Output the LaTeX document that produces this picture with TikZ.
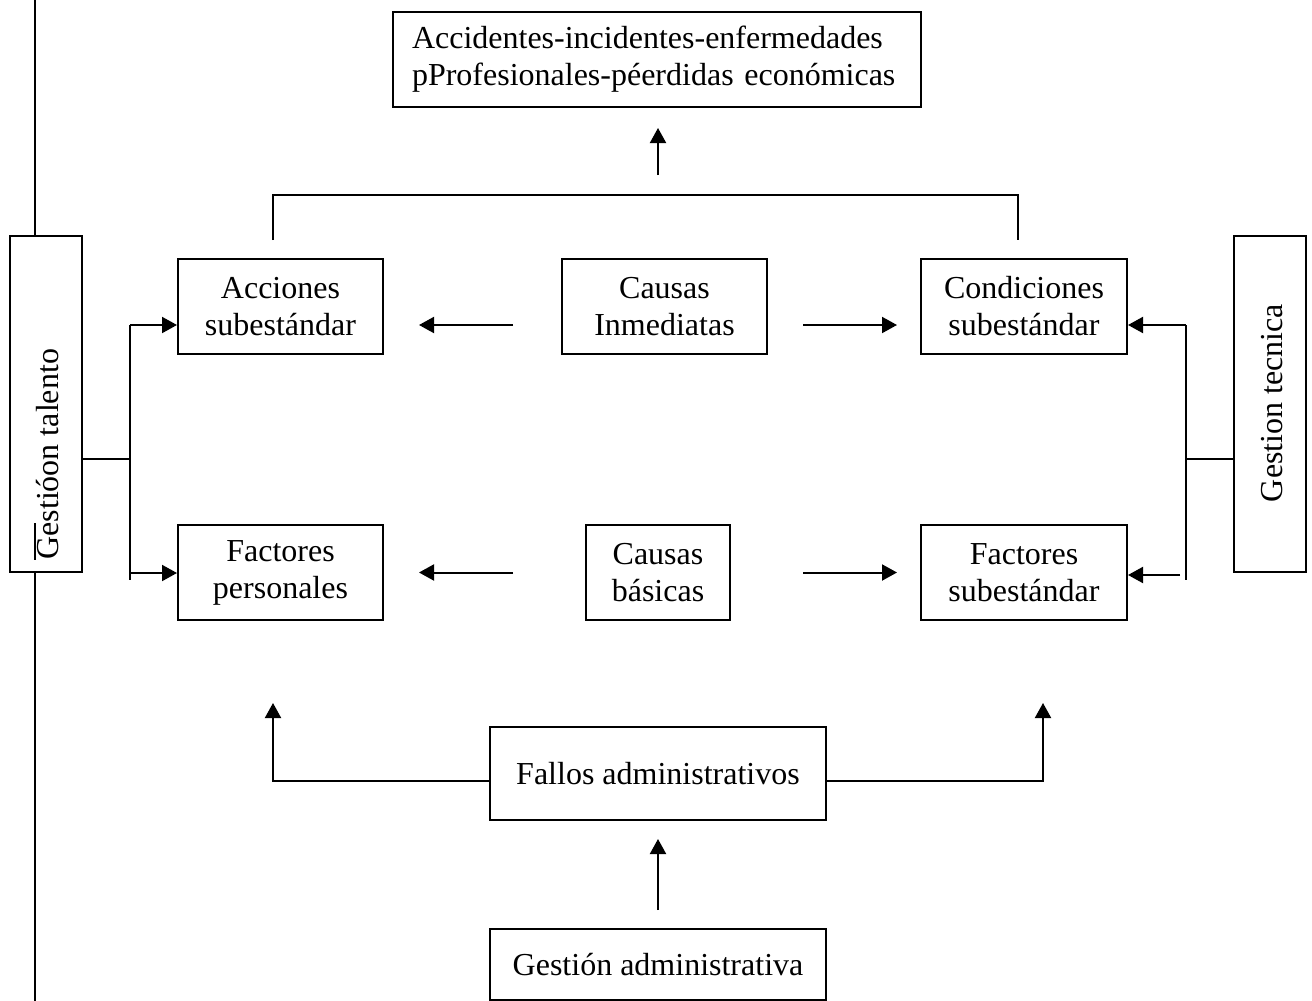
\documentclass[tikz,border=0pt]{standalone}
\usepackage{fontspec}
\setmainfont{Liberation Serif}
\usetikzlibrary{arrows.meta}
\begin{document}
\begin{tikzpicture}[x=0.5pt,y=-0.5pt,
    every node/.style={font=\fontsize{16}{18.5}\selectfont},
    box/.style={draw=black,line width=1pt,fill=white,inner sep=0pt,align=center},
    line/.style={draw=black,line width=1pt},
    arr/.style={line,-{Triangle[length=7.5pt,width=8pt]}}]
  \useasboundingbox (0,0) rectangle (1312,1001);
  \draw[line] (35,0) -- (35,1001);
  % boxes
  \node[box,minimum width=264pt,minimum height=47.5pt,text width=245pt,align=left] (top) at (657,59.5)
    {Accidentes-incidentes-enfermedades\\pProfesionales-péerdidas económicas};
  \node[box,minimum width=102.5pt,minimum height=47.5pt] (acc) at (280.5,306.5) {Acciones\\subestándar};
  \node[box,minimum width=102.5pt,minimum height=47.5pt] (inm) at (664.5,306.5) {Causas\\Inmediatas};
  \node[box,minimum width=103pt,minimum height=47.5pt] (cond) at (1024,306.5) {Condiciones\\subestándar};
  \node[box,minimum width=102.5pt,minimum height=47.5pt] (per) at (280.5,572.5) {Factores\\personales};
  \node[box,minimum width=72pt,minimum height=47.5pt] (bas) at (658,572.5) {Causas\\básicas};
  \node[box,minimum width=103pt,minimum height=47.5pt] (fsub) at (1024,572.5) {Factores\\subestándar};
  \node[box,minimum width=36pt,minimum height=168pt] (tal) at (46,404) {};
  \node[box,minimum width=36pt,minimum height=168pt] (tec) at (1270,404) {};
  \node[rotate=90,anchor=west,inner sep=0pt] (taltxt) at (48,560) {Gestióon talento};
  \node[rotate=90,inner sep=0pt] (tectxt) at (1272,403) {Gestion tecnica};
  \node[box,minimum width=168pt,minimum height=46.5pt] (fal) at (658,773.5) {Fallos administrativos};
  \node[box,minimum width=168pt,minimum height=35.5pt] (gadm) at (658,964.5) {Gestión administrativa};
  \draw[line] (35,523) -- (35,560);
  % free ends
  \coordinate (bl) at (273,240);
  \coordinate (br) at (1018,240);
  \coordinate (up) at (658,175);
  \coordinate (lj) at (130,459);
  \coordinate (lt) at (130,325);
  \coordinate (lb) at (130,573);
  \coordinate (rj) at (1186,459);
  \coordinate (rt) at (1186,325);
  \coordinate (rb) at (1180,575);
  \coordinate (hl) at (273,781);
  \coordinate (hr) at (1043,781);
  \coordinate (al) at (273,703);
  \coordinate (ar) at (1043,703);
  % top bracket
  \draw[line] (bl) -- (273,195) -- (1018,195) -- (br);
  \draw[arr,shorten >=10pt] (up) -- (up |- top.south);
  % middle rows
  \draw[arr,shorten <=24pt,shorten >=17.5pt] ([yshift=-9.25pt]inm.west) -- ([yshift=-9.25pt]acc.east);
  \draw[arr,shorten <=17.5pt,shorten >=11.5pt] ([yshift=-9.25pt]inm.east) -- ([yshift=-9.25pt]cond.west);
  \draw[arr,shorten <=36pt,shorten >=17.5pt] (bas.west) -- (per.east);
  \draw[arr,shorten <=36pt,shorten >=11.5pt] (bas.east) -- (fsub.west);
  % left side
  \draw[line] (tal.east |- lj) -- (lj);
  \draw[line] (lt) -- (130,580);
  \draw[arr] (lt) -- (acc.west |- lt);
  \draw[arr] (lb) -- (per.west |- lb);
  % right side
  \draw[line] (tec.west |- rj) -- (rj);
  \draw[line] (rt) -- (1186,580);
  \draw[arr] (rt) -- (cond.east |- rt);
  \draw[arr] (rb) -- (fsub.east |- rb);
  % bottom
  \draw[arr] (fal.west |- hl) -- (hl) -- (al);
  \draw[arr] (fal.east |- hr) -- (hr) -- (ar);
  \draw[arr,shorten <=9pt,shorten >=9pt] (gadm) -- (fal);
\end{tikzpicture}
\end{document}
